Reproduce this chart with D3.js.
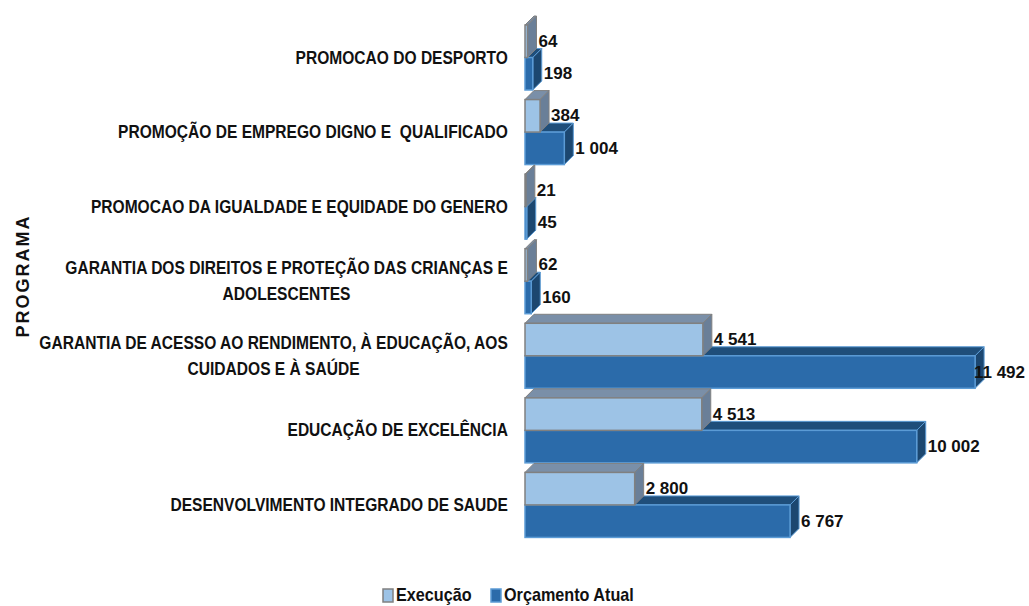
<!DOCTYPE html>
<html>
<head>
<meta charset="utf-8">
<script src="https://cdn.jsdelivr.net/npm/d3@7"></script>
<style>
  html, body { margin: 0; padding: 0; background: #fff; }
  svg { display: block; }
  text { white-space: pre; }
</style>
</head>
<body>
<svg id="chart" width="1029" height="606"></svg>
<script>
// ---- data (top to bottom) ----
const categories = [
  "PROMOCAO DO DESPORTO",
  "PROMOÇÃO DE EMPREGO DIGNO E  QUALIFICADO",
  "PROMOCAO DA IGUALDADE E EQUIDADE DO GENERO",
  "GARANTIA DOS DIREITOS E PROTEÇÃO DAS CRIANÇAS E ADOLESCENTES",
  "GARANTIA DE ACESSO AO RENDIMENTO, À EDUCAÇÃO, AOS CUIDADOS E À SAÚDE",
  "EDUCAÇÃO DE EXCELÊNCIA",
  "DESENVOLVIMENTO INTEGRADO DE SAUDE"
];
const categoryLines = [
  ["PROMOCAO DO DESPORTO"],
  ["PROMOÇÃO DE EMPREGO DIGNO E  QUALIFICADO"],
  ["PROMOCAO DA IGUALDADE E EQUIDADE DO GENERO"],
  ["GARANTIA DOS DIREITOS E PROTEÇÃO DAS CRIANÇAS E", "ADOLESCENTES"],
  ["GARANTIA DE ACESSO AO RENDIMENTO, À EDUCAÇÃO, AOS", "CUIDADOS E À SAÚDE"],
  ["EDUCAÇÃO DE EXCELÊNCIA"],
  ["DESENVOLVIMENTO INTEGRADO DE SAUDE"]
];
const seriesNames = ["Execução", "Orçamento Atual"];
const execucao  = [64, 384, 21, 62, 4541, 4513, 2800];
const orcamento = [198, 1004, 45, 160, 11492, 10002, 6767];
const axisTitle = "PROGRAMA";

// ---- styles ----
const styles = {
  "Execução":        { front: "#9DC3E6", stroke: "#808080", top: "#7A8FA8", side: "#6A7F98" },
  "Orçamento Atual": { front: "#2B6BAA", stroke: "#5B9BD5", top: "#1F4E7A", side: "#1C4770" }
};
const labelFont = "'Liberation Sans', Arial, sans-serif";
const catScaleX = 0.865;
const depth = 9;

const svg = d3.select("#chart");
const x = d3.scaleLinear().domain([0, 12000]).range([525, 995]);
const y = d3.scaleBand().domain(categories).range([20, 542]).padding(0);
const ySub = d3.scaleBand().domain(seriesNames).range([5, 70]).padding(0);
const fmt = v => d3.format(",")(v).replace(/,/g, " ");

const rows = categories.map((c, i) => ({
  cat: c, lines: categoryLines[i],
  vals: [
    { s: "Execução", v: execucao[i] },
    { s: "Orçamento Atual", v: orcamento[i] }
  ]
}));

function drawBar(g, cat, s, v) {
  const st = styles[s];
  const x0 = x(0), x1 = x(v);
  const y0 = y(cat) + ySub(s), y1 = y0 + ySub.bandwidth();
  g.append("path")
    .attr("d", `M${x0},${y0} L${x0 + depth},${y0 - depth} L${x1 + depth},${y0 - depth} L${x1},${y0} Z`)
    .attr("fill", st.top).attr("stroke", st.stroke).attr("stroke-width", 1).attr("stroke-linejoin", "round");
  g.append("path")
    .attr("d", `M${x1},${y0} L${x1 + depth},${y0 - depth} L${x1 + depth},${y1 - depth} L${x1},${y1} Z`)
    .attr("fill", st.side).attr("stroke", st.stroke).attr("stroke-width", 1).attr("stroke-linejoin", "round");
  g.append("rect")
    .attr("x", x0).attr("y", y0)
    .attr("width", Math.max(0, x1 - x0)).attr("height", y1 - y0)
    .attr("fill", st.front).attr("stroke", st.stroke).attr("stroke-width", 1.5);
}

const barsG = svg.append("g");
rows.forEach(r => {
  const g = barsG.append("g");
  drawBar(g, r.cat, "Orçamento Atual", r.vals[1].v);
  drawBar(g, r.cat, "Execução", r.vals[0].v);
});

// value labels
const labG = svg.append("g");
rows.forEach(r => {
  r.vals.forEach(d => {
    const yc = y(r.cat) + ySub(d.s) + ySub.bandwidth() / 2 + 1;
    const t = labG.append("text")
      .attr("x", x(d.v) + 11).attr("y", yc)
      .attr("dominant-baseline", "middle")
      .attr("font-family", labelFont).attr("font-weight", "bold")
      .attr("font-size", 17).attr("fill", "#111")
      .text(fmt(d.v));
    const w = t.node().getComputedTextLength();
    if (x(d.v) + 11 + w > 1025) t.attr("x", 1025 - w);
  });
});

// category labels (block right-aligned, lines centred)
const catG = svg.append("g");
rows.forEach(r => {
  const n = r.lines.length, lh = 26;
  const cy = y(r.cat) + y.bandwidth() / 2 + 1.5;
  const texts = r.lines.map((ln, k) =>
    catG.append("text")
      .attr("text-anchor", "middle")
      .attr("dominant-baseline", "middle")
      .attr("font-family", labelFont).attr("font-weight", "bold")
      .attr("font-size", 18).attr("fill", "#111")
      .attr("data-y", cy + (k - (n - 1) / 2) * lh)
      .text(ln));
  const maxW = d3.max(texts, t => t.node().getComputedTextLength()) * catScaleX;
  const cx = 508 - maxW / 2;
  texts.forEach(t => t.attr("transform", `translate(${cx},${t.attr("data-y")}) scale(${catScaleX},1)`));
});

// axis title
svg.append("text")
  .attr("transform", "translate(24,276) rotate(-90)")
  .attr("text-anchor", "middle").attr("dominant-baseline", "middle")
  .attr("font-family", "'Liberation Sans', Arial, sans-serif").attr("font-weight", "bold")
  .attr("font-size", 18).attr("letter-spacing", 2).attr("fill", "#111")
  .text(axisTitle);

// legend
const leg = svg.append("g");
const legendX = [383, 491];
seriesNames.forEach((s, i) => {
  const st = styles[s];
  leg.append("rect").attr("x", legendX[i]).attr("y", 589).attr("width", 10).attr("height", 13)
    .attr("fill", st.front).attr("stroke", st.stroke).attr("stroke-width", 1.5);
  leg.append("text")
    .attr("transform", `translate(${legendX[i] + 13},596) scale(0.9,1)`)
    .attr("dominant-baseline", "middle")
    .attr("font-family", labelFont).attr("font-weight", "bold")
    .attr("font-size", 18).attr("fill", "#111")
    .text(s);
});
</script>
</body>
</html>
